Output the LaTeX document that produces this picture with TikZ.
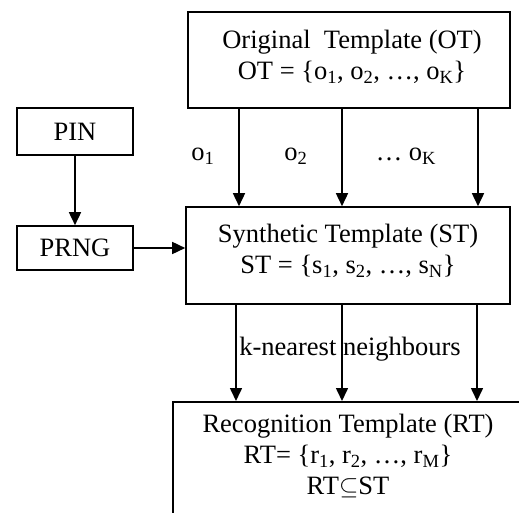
\documentclass[tikz,border=0pt]{standalone}
\usepackage{fontspec}
\setmainfont{Liberation Serif}
\usetikzlibrary{arrows.meta}
\tikzset{
  box/.style={draw, line width=1.6pt, rectangle, inner sep=0pt, align=center, font=\fontsize{26.5}{33}\selectfont},
  lbl/.style={inner sep=0pt, font=\fontsize{26.5}{31}\selectfont},
  arr/.style={line width=1.6pt, -{Triangle[length=13pt,width=12pt]}},
}
\begin{document}
\begin{tikzpicture}[x=1pt,y=-1pt]
\useasboundingbox (0,0) rectangle (519,513);
\clip (0,0) rectangle (519,513);
\node[box, minimum width=322pt, minimum height=96pt] (OT) at (349,60) {};
\node[lbl, align=center] (OTt) at (352,57)
  {Original\ \ Template (OT)\\OT = \{o\textsubscript{1}, o\textsubscript{2}, …, o\textsubscript{K}\}};
\node[box, minimum width=324pt, minimum height=97pt] (ST) at (348,255.5) {};
\node[lbl, align=center] (STt) at (348,251)
  {Synthetic Template (ST)\\ST = \{s\textsubscript{1}, s\textsubscript{2}, …, s\textsubscript{N}\}};
\node[box, minimum width=116pt, minimum height=47pt] (PIN) at (75,131.5) {PIN};
\node[box, minimum width=116pt, minimum height=44pt] (PRNG) at (75,248) {PRNG};
\node[box, minimum width=380pt, minimum height=150pt, anchor=north west] (RT) at (172,401) {};
\node[lbl, align=center, anchor=north] (RTt) at (348,414)
  {Recognition Template (RT)\\RT= \{r\textsubscript{1}, r\textsubscript{2}, …, r\textsubscript{M}\}\\RT$\subseteq$ST};
% labels
\node[lbl] (l1) at (203,156) {o\textsubscript{1}};
\node[lbl] (l2) at (296,156) {o\textsubscript{2}};
\node[lbl] (l3) at (406,156) {… o\textsubscript{K}};
\node[lbl] (kn) at (350,349) {k-nearest neighbours};
% connector columns
\coordinate (a1) at (239,0);
\coordinate (a2) at (342,0);
\coordinate (a3) at (478,0);
\coordinate (b1) at (236,0);
\coordinate (b2) at (342,0);
\coordinate (b3) at (477,0);
\draw[arr] (a1 |- OT.south) -- (a1 |- ST.north);
\draw[arr] (a2 |- OT.south) -- (a2 |- ST.north);
\draw[arr] (a3 |- OT.south) -- (a3 |- ST.north);
\draw[arr] (b1 |- ST.south) -- (b1 |- RT.north);
\draw[arr] (b2 |- ST.south) -- (b2 |- RT.north);
\draw[arr] (b3 |- ST.south) -- (b3 |- RT.north);
\draw[arr] (PIN.south) -- (PRNG.north);
\draw[arr] (PRNG.east) -- (PRNG.east -| ST.west);
\end{tikzpicture}
\end{document}
